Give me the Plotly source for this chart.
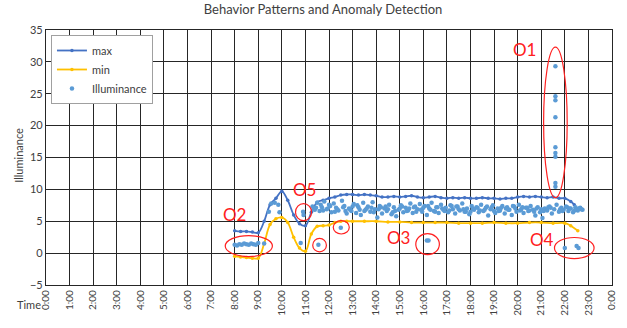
import plotly.graph_objects as go

# ---------------- data ----------------
hour_ticks = list(range(0, 25))
hour_labels = [f"{h % 24}:00" for h in hour_ticks]

max_hours = [8.0, 8.25, 8.5, 8.75, 9.0, 9.25, 9.5, 9.75, 10.0, 10.25, 10.5, 10.75, 11.0, 11.25,
             11.5, 11.75, 12.0, 12.25, 12.5, 12.75, 13.0, 13.25, 13.5, 13.75, 14.0, 14.25, 14.5,
             14.75, 15.0, 15.25, 15.5, 15.75, 16.0, 16.25, 16.5, 16.75, 17.0, 17.25, 17.5, 17.75,
             18.0, 18.25, 18.5, 18.75, 19.0, 19.25, 19.5, 19.75, 20.0, 20.25, 20.5, 20.75, 21.0,
             21.25, 21.5, 21.75, 22.0, 22.25, 22.4]
max_values = [3.5, 3.4, 3.4, 3.3, 3.2, 5.0, 7.6, 8.6, 9.7, 8.3, 6.0, 4.6, 4.3, 6.4,
              8.0, 8.3, 8.6, 8.8, 9.1, 9.2, 9.2, 9.1, 9.2, 9.1, 9.0, 8.8, 8.8,
              8.9, 8.8, 8.9, 9.0, 8.8, 8.7, 8.8, 8.9, 8.7, 8.6, 8.7, 8.6, 8.7,
              8.6, 8.6, 8.7, 8.6, 8.6, 8.5, 8.6, 8.6, 8.8, 8.9, 8.8, 8.9, 8.8,
              8.7, 8.8, 8.6, 8.6, 8.1, 7.6]

min_hours = [8.0, 8.25, 8.5, 8.75, 9.0, 9.25, 9.5, 9.75, 10.0, 10.25, 10.5, 10.75, 11.0, 11.25,
             11.5, 11.75, 12.0, 12.25, 12.5, 12.75, 13.0, 13.5, 14.0, 14.5, 15.0, 15.5, 16.0,
             16.5, 17.0, 17.5, 18.0, 18.5, 19.0, 19.5, 20.0, 20.5, 21.0, 21.5, 22.0, 22.25, 22.55]
min_values = [-0.5, -0.6, -0.7, -0.8, -0.8, 1.5, 4.5, 5.4, 5.6, 4.8, 2.5, 0.8, 0.3, 3.0,
              4.2, 4.3, 4.4, 4.8, 5.0, 5.0, 5.0, 5.0, 5.0, 4.9, 4.9, 4.8, 4.8,
              4.8, 4.8, 4.7, 4.7, 4.7, 4.8, 4.7, 4.7, 4.8, 4.8, 4.7, 4.7, 4.3, 3.5]

illum_hours = [
    8.0, 8.1, 8.2, 8.3, 8.4, 8.5, 8.6, 8.7, 8.8, 8.9, 9.0, 9.25,
    9.45, 9.55, 9.7, 9.85, 9.9, 10.8, 10.9, 10.92, 11.55, 12.5,
    11.30, 11.40, 11.50, 11.60, 11.70, 11.80, 11.90, 12.00, 12.10, 12.20, 12.30, 12.40,
    12.55, 12.65, 12.75, 12.85, 12.95, 13.05, 13.15, 13.25, 13.35, 13.45, 13.55, 13.65,
    13.75, 13.85, 13.95, 14.05, 14.15, 14.25, 14.35, 14.45, 14.55, 14.65, 14.75, 14.85,
    14.95, 15.05, 15.15, 15.25, 15.35, 15.45, 15.55, 15.65, 15.75, 15.85, 15.95, 16.05,
    16.15, 16.25, 16.35, 16.45, 16.55, 16.65, 16.75, 16.85, 16.95, 17.05, 17.15, 17.25,
    17.35, 17.45, 17.55, 17.65, 17.75, 17.85, 17.95, 18.05, 18.15, 18.25, 18.35, 18.45,
    18.55, 18.65, 18.75, 18.85, 18.95, 19.05, 19.15, 19.25, 19.35, 19.45, 19.55, 19.65,
    19.75, 19.85, 19.95, 20.05, 20.15, 20.25, 20.35, 20.45, 20.55, 20.65, 20.75, 20.85,
    20.95, 21.05, 21.15, 21.25, 21.35, 21.45, 21.55, 21.65, 21.75, 21.85, 21.95, 22.05,
    22.15, 22.25, 22.35, 22.45, 22.55, 22.65, 22.75,
    11.35, 11.65, 11.95, 12.25, 12.6, 12.9, 13.2, 13.5, 13.8, 14.1, 14.4, 14.7,
    15.0, 15.3, 15.6, 15.9, 16.2, 16.5, 16.8, 17.1, 17.4, 17.7, 18.0, 18.3,
    18.6, 18.9, 19.2, 19.5, 19.8, 20.1, 20.4, 20.7, 21.0, 21.3, 21.9, 22.2, 22.5, 22.7,
    11.45, 11.75, 12.05, 12.35, 12.7, 13.0, 13.3, 13.6, 13.9, 14.2, 14.5, 14.8,
    15.1, 15.4, 15.7, 16.0, 16.3, 16.6, 16.9, 17.2, 17.5, 17.8, 18.1, 18.4,
    18.7, 19.0, 19.3, 19.6, 19.9, 20.2, 20.5, 20.8, 21.1, 21.4, 21.8, 22.1, 22.4, 22.6,
    21.6, 21.6, 21.6, 21.6, 21.6, 21.6, 21.6, 21.6, 21.6,
    16.15, 16.22, 22.0, 22.5, 22.58,
]
illum_values = [
    1.3, 1.2, 1.4, 1.3, 1.5, 1.4, 1.3, 1.5, 1.4, 1.3, 1.6, 1.5,
    6.5, 7.8, 7.9, 7.6, 6.4, 1.6, 6.5, 6.0, 1.3, 4.0,
    7.3, 6.8, 7.9, 6.6, 7.2, 8.1, 6.9, 7.6, 6.4, 7.8, 7.1, 6.7,
    8.2, 7.4, 6.2, 7.0, 6.6, 7.7, 6.3, 7.2, 6.0, 7.9, 6.8, 7.3,
    6.5, 8.0, 6.9, 5.6, 7.4, 6.2, 7.0, 6.6, 7.6, 6.1, 7.2, 5.8,
    6.8, 7.5, 6.4, 7.1, 6.7, 7.8, 6.3, 7.3, 6.9, 7.7, 6.5, 7.4,
    6.0, 7.0, 7.9, 6.6, 7.2, 6.3, 7.6, 6.8, 7.1, 6.4, 7.5, 6.9,
    6.2, 7.3, 6.7, 7.8, 6.5, 7.0, 6.1, 7.4, 6.8, 7.2, 6.4, 7.6,
    6.6, 7.1, 5.9, 6.9, 7.5, 6.3, 7.0, 6.7, 7.4, 6.2, 7.2, 6.8,
    6.0, 7.3, 6.5, 7.6, 6.9, 6.3, 7.1, 6.6, 7.4, 6.8, 5.9, 7.2,
    6.4, 5.5, 7.0, 6.7, 7.3, 6.2, 6.9, 7.6, 6.5, 7.1, 6.8, 7.3,
    6.6, 7.0, 6.4, 7.2, 6.7, 7.1, 6.8,
    6.9, 7.6, 7.0, 6.5, 7.2, 6.8, 7.5, 6.6, 7.1, 6.9, 7.3, 6.4,
    7.0, 6.6, 7.2, 6.8, 7.4, 6.5, 7.0, 6.7, 7.3, 6.9, 6.5, 7.1,
    6.8, 7.2, 6.6, 7.0, 7.4, 6.7, 7.1, 6.5, 6.9, 7.2, 6.6, 7.0, 6.8, 6.9,
    7.1, 6.7, 7.4, 6.9, 6.6, 7.3, 6.8, 7.0, 6.4, 7.2, 6.9, 6.6,
    7.3, 7.0, 6.5, 7.1, 6.8, 7.2, 6.6, 7.4, 6.9, 6.5, 7.0, 6.7,
    7.3, 6.6, 7.1, 6.8, 7.0, 7.2, 6.7, 7.0, 6.6, 7.1, 6.9, 7.2, 6.7, 7.0,
    29.3, 24.6, 24.0, 21.3, 16.6, 15.7, 15.1, 11.0, 10.4,
    2.0, 2.0, 0.8, 1.1, 0.8,
]

# anomaly marks: label, label position, ellipse box (x0, x1, y0, y1) in data units
anomaly_labels = ["O1", "O2", "O5", "O3", "O4"]
anomaly_label_x = [20.3, 8.0, 10.97, 14.96, 21.05]
anomaly_label_y = [32.0, 6.0, 10.0, 2.5, 2.2]
ellipse_boxes = [
    (21.1, 22.1, 8.7, 32.3),
    (7.6, 9.6, -0.55, 2.75),
    (10.58, 11.26, 5.1, 7.76),
    (11.31, 11.89, 0.2, 2.3),
    (12.18, 12.86, 3.0, 5.1),
    (15.68, 16.68, -0.25, 3.05),
    (21.56, 23.24, -0.85, 2.45),
]

# plot-area pixel geometry (for paper-referenced labels)
PL, PR, PT, PB = 46, 617, 30, 285
PW, PH = PR - PL, PB - PT

# ---------------- figure ----------------
fig = go.Figure()
fig.add_trace(go.Scatter(x=max_hours, y=max_values, name="max", mode="lines+markers",
                         line=dict(color="#4472C4", width=1.8, shape="spline"),
                         marker=dict(color="#4472C4", size=3.5)))
fig.add_trace(go.Scatter(x=min_hours, y=min_values, name="min", mode="lines+markers",
                         line=dict(color="#FFC000", width=1.8, shape="spline"),
                         marker=dict(color="#FFC000", size=3.5)))
fig.add_trace(go.Scatter(x=illum_hours, y=illum_values, name="Illuminance", mode="markers",
                         marker=dict(color="#5B9BD5", size=4.5, symbol="circle")))

for (x0, x1, y0, y1) in ellipse_boxes:
    fig.add_shape(type="circle", xref="x", yref="y", x0=x0, x1=x1, y0=y0, y1=y1,
                  line=dict(color="#FF2020", width=1.2))

for t, lx, ly in zip(anomaly_labels, anomaly_label_x, anomaly_label_y):
    fig.add_annotation(x=lx, y=ly, xref="x", yref="y", text=t, showarrow=False,
                       font=dict(family="Lato", size=17, color="#FF2020"))

fig.add_annotation(x=(15 - PL) / PW, y=(PB - 313) / PH, xref="paper", yref="paper",
                   text="Time", showarrow=False,
                   font=dict(family="Lato", size=11, color="#404040"))
fig.add_annotation(x=(9 - PL) / PW, y=(PB - 155) / PH, xref="paper", yref="paper",
                   text="Illuminance", textangle=-90, showarrow=False,
                   font=dict(family="Lato", size=11, color="#404040"))

grid_col = "#262626"
fig.update_layout(
    width=627, height=328,
    margin=dict(l=PL, r=627 - PR, t=PT, b=328 - PB),
    paper_bgcolor="white", plot_bgcolor="white",
    font=dict(family="Lato", color="#404040"),
    title=dict(text="Behavior Patterns and Anomaly Detection", x=323 / 627, xanchor="center",
               y=1 - 9 / 328, yanchor="middle", font=dict(size=13, color="#404040")),
    showlegend=True,
    legend=dict(x=(51 - PL) / PW, y=(PB - 35) / PH, xanchor="left", yanchor="top",
                bgcolor="white", bordercolor="#A0A0A0", borderwidth=1,
                font=dict(size=11, color="#404040"), tracegroupgap=0),
    xaxis=dict(range=[0, 24], tickmode="array", tickvals=hour_ticks, ticktext=hour_labels,
               tickangle=-90, tickfont=dict(size=10, color="#404040"), showgrid=True,
               gridcolor=grid_col, gridwidth=1.2, zeroline=False, showline=True,
               linecolor=grid_col, linewidth=1.2, mirror=True, ticks="", fixedrange=True),
    yaxis=dict(range=[-5, 35], dtick=5, tick0=0, tickfont=dict(size=11, color="#404040"),
               showgrid=True, gridcolor=grid_col, gridwidth=1.2, zeroline=False,
               showline=True, linecolor=grid_col, linewidth=1.2, mirror=True, ticks="",
               fixedrange=True),
)

fig.write_html("out.html")
